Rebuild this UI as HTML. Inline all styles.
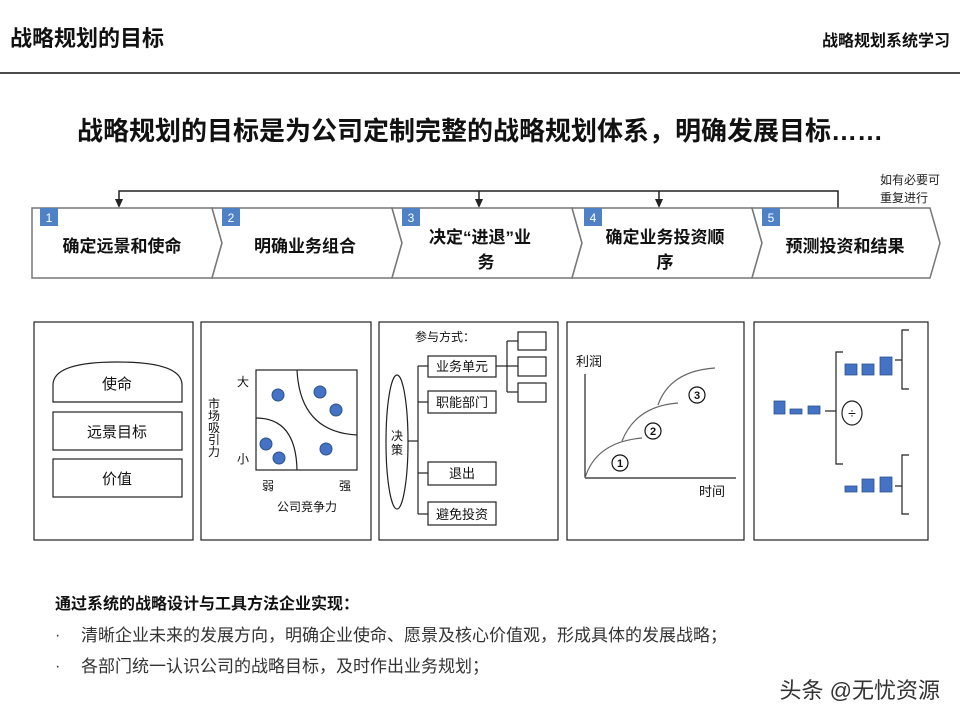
<!DOCTYPE html>
<html><head><meta charset="utf-8"><style>
html,body{margin:0;padding:0;background:#fff}
svg text{font-family:"Liberation Sans","Noto Sans CJK SC",sans-serif}
</style></head><body>
<svg width="960" height="720" viewBox="0 0 960 720" xmlns="http://www.w3.org/2000/svg">
<defs><marker id="ah" markerWidth="8" markerHeight="8" refX="4" refY="7" orient="0" markerUnits="userSpaceOnUse"><path d="M0,0 L8,0 L4,8 z" fill="#222"/></marker></defs>
<text x="10" y="46" font-size="22" font-weight="bold" fill="#111">战略规划的目标</text>
<text x="950" y="46" font-size="16" font-weight="bold" fill="#111" text-anchor="end">战略规划系统学习</text>
<line x1="0" y1="73" x2="960" y2="73" stroke="#111" stroke-width="1.5"/>
<text x="480" y="140" font-size="26" font-weight="bold" fill="#111" text-anchor="middle">战略规划的目标是为公司定制完整的战略规划体系，明确发展目标……</text>

<!-- feedback line -->
<polyline points="838,208 838,191 119,191 119,200" fill="none" stroke="#222" stroke-width="1.5"/>
<path d="M115,199 L123,199 L119,208 z" fill="#222"/>
<line x1="479" y1="191" x2="479" y2="200" stroke="#222" stroke-width="1.5"/>
<path d="M475,199 L483,199 L479,208 z" fill="#222"/>
<line x1="659" y1="191" x2="659" y2="200" stroke="#222" stroke-width="1.5"/>
<path d="M655,199 L663,199 L659,208 z" fill="#222"/>
<text x="880" y="184" font-size="12" fill="#222">如有必要可</text>
<text x="880" y="202" font-size="12" fill="#222">重复进行</text>

<!-- chevrons -->
<g fill="#fff" stroke="#777" stroke-width="1.5">
<path d="M32,208 L212,208 L222,243 L212,278 L32,278 Z"/>
<path d="M212,208 L392,208 L402,243 L392,278 L212,278 L222,243 Z"/>
<path d="M392,208 L572,208 L582,243 L572,278 L392,278 L402,243 Z"/>
<path d="M572,208 L752,208 L762,243 L752,278 L572,278 L582,243 Z"/>
<path d="M752,208 L930,208 L940,243 L930,278 L752,278 L762,243 Z"/>
</g>
<g fill="#4f81c7">
<rect x="40" y="208" width="18" height="18"/><rect x="222" y="208" width="18" height="18"/>
<rect x="402" y="208" width="18" height="18"/><rect x="584" y="208" width="18" height="18"/>
<rect x="762" y="208" width="18" height="18"/>
</g>
<g fill="#fff" font-size="12" text-anchor="middle">
<text x="49" y="222">1</text><text x="231" y="222">2</text><text x="411" y="222">3</text><text x="593" y="222">4</text><text x="771" y="222">5</text>
</g>
<g font-size="17" font-weight="bold" fill="#111" text-anchor="middle">
<text x="122" y="252">确定远景和使命</text>
<text x="305" y="252">明确业务组合</text>
<text x="480" y="243">决定“进退”业</text><text x="486" y="268">务</text>
<text x="665" y="243">确定业务投资顺</text><text x="665" y="268">序</text>
<text x="845" y="252">预测投资和结果</text>
</g>

<!-- panels -->
<g fill="none" stroke="#222" stroke-width="1.2">
<rect x="34" y="322" width="159" height="218"/>
<rect x="201" y="322" width="170" height="218"/>
<rect x="379" y="322" width="179" height="218"/>
<rect x="567" y="322" width="177" height="218"/>
<rect x="754" y="322" width="174" height="218"/>
</g>

<!-- panel1 -->
<g fill="none" stroke="#222" stroke-width="1.2">
<path d="M53,402 L53,385 Q53,362 117,362 Q182,362 182,385 L182,402 Z"/>
<rect x="53" y="412" width="129" height="38"/>
<rect x="53" y="459" width="129" height="38"/>
</g>
<g font-size="15" fill="#111" text-anchor="middle">
<text x="117" y="389">使命</text><text x="117" y="437">远景目标</text><text x="117" y="484">价值</text>
</g>

<!-- panel2 -->
<rect x="256" y="370" width="101" height="100" fill="none" stroke="#222" stroke-width="1.2"/>
<path d="M256,418 Q296,418 297,470" fill="none" stroke="#222" stroke-width="1.2"/>
<path d="M297,370 Q300,432 357,435" fill="none" stroke="#222" stroke-width="1.2"/>
<g fill="#4472c4" stroke="#2f528f" stroke-width="1">
<circle cx="278" cy="395" r="6"/><circle cx="320" cy="392" r="6"/><circle cx="336" cy="410" r="6"/>
<circle cx="266" cy="444" r="6"/><circle cx="279" cy="458" r="6"/><circle cx="326" cy="449" r="6"/>
</g>
<g font-size="12" fill="#111" text-anchor="middle">
<text x="243" y="386">大</text><text x="243" y="463">小</text>
<text x="268" y="490">弱</text><text x="345" y="490">强</text>
<text x="307" y="511">公司竞争力</text>
<text x="214" y="408">市</text><text x="214" y="420">场</text><text x="214" y="432">吸</text><text x="214" y="444">引</text><text x="214" y="456">力</text>
</g>

<!-- panel3 -->
<text x="415" y="341" font-size="12" fill="#111">参与方式：</text>
<ellipse cx="397" cy="442" rx="11" ry="67" fill="none" stroke="#222" stroke-width="1.2"/>
<text x="397" y="440" font-size="12" text-anchor="middle" fill="#111">决</text>
<text x="397" y="454" font-size="12" text-anchor="middle" fill="#111">策</text>
<g fill="none" stroke="#222" stroke-width="1.2">
<line x1="408" y1="441" x2="418" y2="441"/>
<line x1="418" y1="366" x2="418" y2="514"/>
<line x1="418" y1="366" x2="428" y2="366"/><line x1="418" y1="402" x2="428" y2="402"/>
<line x1="418" y1="473" x2="428" y2="473"/><line x1="418" y1="514" x2="428" y2="514"/>
<rect x="428" y="356" width="68" height="21"/><rect x="428" y="391" width="68" height="22"/>
<rect x="428" y="462" width="68" height="23"/><rect x="428" y="502" width="68" height="23"/>
<line x1="496" y1="366" x2="507" y2="366"/>
<line x1="507" y1="341" x2="507" y2="392"/>
<line x1="507" y1="341" x2="518" y2="341"/><line x1="507" y1="366" x2="518" y2="366"/><line x1="507" y1="392" x2="518" y2="392"/>
<rect x="518" y="332" width="28" height="18"/><rect x="518" y="357" width="28" height="19"/><rect x="518" y="383" width="28" height="19"/>
</g>
<g font-size="13" fill="#111" text-anchor="middle">
<text x="462" y="371">业务单元</text><text x="462" y="407">职能部门</text>
<text x="462" y="478">退出</text><text x="462" y="519">避免投资</text>
</g>

<!-- panel4 -->
<g fill="none" stroke="#222" stroke-width="1.2">
<line x1="585" y1="374" x2="585" y2="478"/><line x1="585" y1="478" x2="736" y2="478"/>
</g>
<g fill="none" stroke="#666" stroke-width="1.2">
<path d="M585,478 Q596,442 642,438"/>
<path d="M622,441 Q636,406 678,403"/>
<path d="M658,405 Q670,371 715,368"/>
</g>
<text x="576" y="366" font-size="13" fill="#111">利润</text>
<text x="699" y="496" font-size="13" fill="#111">时间</text>
<g fill="none" stroke="#111" stroke-width="1.2">
<circle cx="620" cy="463" r="8"/><circle cx="653" cy="431" r="8"/><circle cx="697" cy="395" r="8"/>
</g>
<g font-size="11" fill="#111" text-anchor="middle" font-weight="bold">
<text x="620" y="467">1</text><text x="653" y="435">2</text><text x="697" y="399">3</text>
</g>

<!-- panel5 -->
<g fill="#4472c4" stroke="#2f528f" stroke-width="0.8">
<rect x="774" y="401" width="11" height="13"/><rect x="790" y="409" width="12" height="5"/><rect x="808" y="406" width="12" height="8"/>
<rect x="845" y="364" width="12" height="11"/><rect x="862" y="364" width="12" height="11"/><rect x="880" y="357" width="12" height="18"/>
<rect x="845" y="486" width="12" height="6"/><rect x="862" y="479" width="12" height="13"/><rect x="880" y="477" width="12" height="15"/>
</g>
<g fill="none" stroke="#222" stroke-width="1.2">
<line x1="825" y1="411" x2="836" y2="411"/>
<polyline points="843,352 836,352 836,464 843,464"/>
<polyline points="909,330 902,330 902,389 909,389"/>
<line x1="895" y1="360" x2="902" y2="360"/>
<polyline points="909,455 902,455 902,514 909,514"/>
<line x1="895" y1="486" x2="902" y2="486"/>
<ellipse cx="852" cy="413" rx="10" ry="12"/>
</g>
<text x="852" y="418" font-size="14" text-anchor="middle" fill="#111">÷</text>

<!-- bottom -->
<text x="55" y="609" font-size="16" font-weight="bold" fill="#111">通过系统的战略设计与工具方法企业实现：</text>
<text x="55" y="640" font-size="16" fill="#333">·</text>
<text x="81" y="641" font-size="17" fill="#333">清晰企业未来的发展方向，明确企业使命、愿景及核心价值观，形成具体的发展战略；</text>
<text x="55" y="671" font-size="16" fill="#333">·</text>
<text x="81" y="672" font-size="17" fill="#333">各部门统一认识公司的战略目标，及时作出业务规划；</text>
<text x="940" y="698" font-size="22" fill="#333" text-anchor="end">头条 @无忧资源</text>
</svg>
</body></html>
